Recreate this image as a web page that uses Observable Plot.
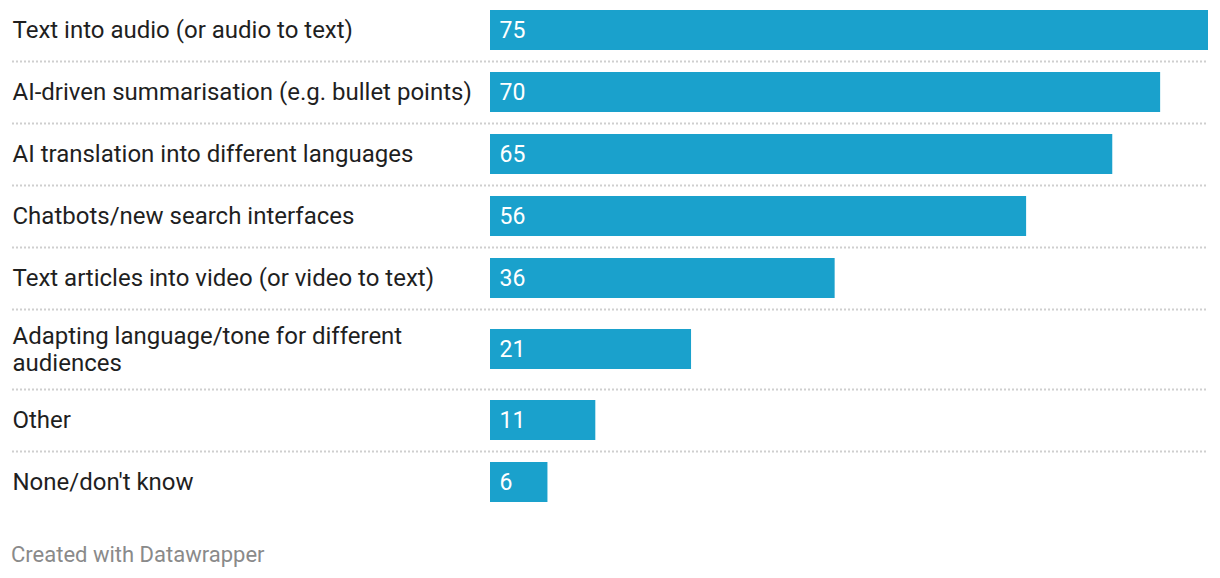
<!DOCTYPE html>
<html>
<head>
<meta charset="utf-8">
<script src="https://cdn.jsdelivr.net/npm/d3@7"></script>
<script src="https://cdn.jsdelivr.net/npm/@observablehq/plot@0.6"></script>
<style>
  body { margin: 0; background: #fff; font-family: Roboto, "Noto Sans", sans-serif; }
  #chart svg { display: block; }
  #footer { position: absolute; left: 11px; top: 542px; font-size: 22px; color: #8a8a8a; font-family: Roboto, sans-serif; }
</style>
</head>
<body>
<div id="chart"></div>
<div id="footer">Created with Datawrapper</div>
<script>
const categories = [
  "Text into audio (or audio to text)",
  "AI-driven summarisation (e.g. bullet points)",
  "AI translation into different languages",
  "Chatbots/new search interfaces",
  "Text articles into video (or video to text)",
  "Adapting language/tone for different\naudiences",
  "Other",
  "None/don't know"
];
const values = [75, 70, 65, 56, 36, 21, 11, 6];

// Row layout derived from how many lines each label needs
const baseRow = 62, extraLine = 18, barH = 40;
let acc = 0;
const rows = categories.map((c, i) => {
  const n = c.split("\n").length;
  const h = baseRow + (n - 1) * extraLine;
  const r = {label: c, value: values[i], top: acc, bottom: acc + h, mid: acc + h / 2};
  acc += h;
  return r;
});
const total = acc;

const chart = Plot.plot({
  width: 1220,
  height: 520,
  marginLeft: 12,
  marginRight: 12,
  marginTop: 0,
  marginBottom: 0,
  style: {fontFamily: "Roboto, sans-serif", background: "white"},
  x: {domain: [0, 75], range: [490, 1208], axis: null},
  y: {type: "linear", domain: [0, total], range: [-1, total - 1], axis: null},
  marks: [
    Plot.ruleY(rows.slice(0, -1), {y: "bottom", stroke: "#cfcfcf", strokeWidth: 2, strokeDasharray: "2,2"}),
    Plot.rect(rows, {x1: 0, x2: "value", y1: d => d.mid - barH / 2, y2: d => d.mid + barH / 2, fill: "#1aa1cc"}),
    Plot.text(rows, {frameAnchor: "left", y: "mid", text: "label", textAnchor: "start", lineAnchor: "middle", lineHeight: 1.15, fontSize: 24, dy: -1, fill: "#1f1f1f"}),
    Plot.text(rows, {x: 0, y: "mid", text: d => String(d.value), dx: 9, textAnchor: "start", lineAnchor: "middle", fontSize: 23, fill: "white"})
  ]
});
document.getElementById("chart").appendChild(chart);
</script>
</body>
</html>
